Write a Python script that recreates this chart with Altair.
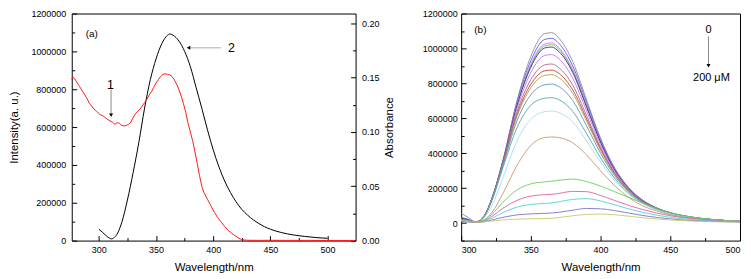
import altair as alt
import pandas as pd

FONT = "Liberation Sans"

# ---------------- panel (a) ----------------
em_wl = [300, 303, 306, 309, 311, 313, 316, 320, 325, 330, 335, 340, 345, 350, 355, 360, 362,
         365, 370, 375, 380, 385, 390, 395, 400, 405, 410, 415, 420, 425, 430, 435, 440, 445,
         450, 460, 470, 480, 490, 500]
em_int = [60000, 45000, 28000, 14000, 9000, 14000, 35000, 95000, 215000, 360000, 520000, 700000,
          850000, 960000, 1040000, 1085000, 1092000, 1085000, 1055000, 1000000, 920000, 810000,
          700000, 585000, 480000, 390000, 315000, 255000, 205000, 165000, 135000, 110000, 90000,
          73000, 60000, 42000, 30000, 22000, 16000, 12000]

abs_wl = [276, 278, 280, 283, 286, 289, 292, 295, 298, 301, 304, 307, 310, 312, 314, 316, 318, 320,
          322, 324, 326, 328, 330, 332, 334, 336, 338, 340, 342, 344, 346, 348, 350, 352, 354, 356,
          358, 360, 362, 364, 366, 368, 370, 372, 374, 376, 378, 380, 382, 384, 386, 388, 390, 392,
          395, 398, 401, 404, 407, 410, 413, 416, 419, 422, 425, 430, 440, 450, 460, 480, 500, 524]
abs_val = [0.149, 0.150, 0.147, 0.142, 0.137, 0.132, 0.126, 0.122, 0.119, 0.116, 0.1145, 0.112,
           0.110, 0.109, 0.107, 0.1085, 0.108, 0.106, 0.1055, 0.106, 0.107, 0.109, 0.113, 0.117,
           0.119, 0.121, 0.124, 0.127, 0.130, 0.134, 0.137, 0.141, 0.145, 0.148, 0.151, 0.153,
           0.1535, 0.153, 0.1525, 0.151, 0.148, 0.144, 0.139, 0.133, 0.126, 0.118, 0.108, 0.100,
           0.092, 0.082, 0.071, 0.060, 0.050, 0.044, 0.038, 0.032, 0.026, 0.021, 0.017, 0.013,
           0.0095, 0.007, 0.0045, 0.0025, 0.0008, 0.0003, 0.0002, 0.0003, 0.0002, 0.0002, 0.0001,
           0.0001]

# annotations (data units)
a_text = ["(a)", "1", "2"]
a_text_wl = [293.8, 310.2, 415.9]
a_text_int = [1093000, 824000, 1019000]

# ---------------- panel (b) ----------------
b_wl = [300, 305, 310, 313, 317, 322, 330, 340, 350, 360, 365, 370, 380, 390, 400, 410, 420, 430,
        440, 450, 465, 480, 500]
c01 = [56000, 33000, 9000, 12000, 48000, 140000, 360000, 700000, 955000, 1085000, 1090000, 1060000,
       925000, 705000, 485000, 318000, 205000, 133000, 88000, 60000, 35000, 21000, 10000]
c02 = [33000, 22000, 7000, 12000, 48000, 140000, 358000, 690000, 930000, 1052000, 1058000, 1030000,
       900000, 690000, 478000, 312000, 202000, 131000, 87000, 59000, 34000, 21000, 10000]
c03 = [25000, 17000, 6000, 11000, 47000, 139000, 355000, 680000, 910000, 1026000, 1032000, 1005000,
       880000, 675000, 470000, 308000, 200000, 130000, 86000, 58000, 34000, 20000, 10000]
c04 = [22000, 15000, 6000, 11000, 47000, 138000, 354000, 676000, 902000, 1015000, 1021000, 995000,
       872000, 670000, 466000, 306000, 199000, 129000, 86000, 58000, 34000, 20000, 10000]
c05 = [28000, 19000, 6000, 11000, 47000, 139000, 353000, 670000, 893000, 1003000, 1008000, 983000,
       863000, 664000, 463000, 305000, 198000, 129000, 86000, 58000, 34000, 20000, 10000]
c06 = [22000, 15000, 6000, 11000, 46000, 137000, 348000, 655000, 862000, 960000, 965000, 942000,
       830000, 642000, 450000, 298000, 195000, 127000, 85000, 57000, 33000, 20000, 10000]
c07 = [20000, 14000, 6000, 11000, 46000, 136000, 343000, 635000, 822000, 906000, 911000, 890000,
       790000, 615000, 434000, 290000, 190000, 125000, 84000, 57000, 33000, 20000, 10000]
c08 = [20000, 14000, 6000, 11000, 45000, 135000, 340000, 620000, 795000, 872000, 876000, 858000,
       763000, 597000, 424000, 284000, 187000, 123000, 83000, 56000, 33000, 20000, 10000]
c09 = [20000, 14000, 6000, 11000, 45000, 134000, 337000, 610000, 775000, 846000, 850000, 833000,
       743000, 584000, 416000, 280000, 185000, 122000, 82000, 56000, 33000, 20000, 10000]
c10 = [18000, 13000, 6000, 10000, 44000, 132000, 330000, 585000, 735000, 792000, 796000, 782000,
       702000, 556000, 400000, 272000, 181000, 120000, 81000, 55000, 32000, 19000, 10000]
c11 = [18000, 13000, 6000, 10000, 43000, 128000, 318000, 545000, 675000, 715000, 718000, 707000,
       640000, 512000, 374000, 258000, 173000, 116000, 79000, 54000, 32000, 19000, 10000]
c12 = [16000, 12000, 6000, 9000, 35000, 100000, 260000, 470000, 595000, 638000, 642000, 633000,
       580000, 470000, 350000, 245000, 166000, 112000, 77000, 53000, 31000, 19000, 10000]
c13 = [15000, 11000, 6000, 8000, 22000, 60000, 170000, 330000, 445000, 490000, 493000, 490000,
       460000, 390000, 300000, 215000, 148000, 100000, 70000, 48000, 29000, 18000, 9000]
c14 = [14000, 9000, 5000, 7000, 20000, 50000, 120000, 190000, 225000, 236000, 240000, 245000,
       252000, 238000, 212000, 180000, 148000, 115000, 85000, 60000, 36000, 20000, 9000]
c15 = [13000, 8000, 5000, 6000, 15000, 38000, 85000, 130000, 155000, 163000, 165000, 170000,
       182000, 180000, 158000, 130000, 102000, 78000, 58000, 42000, 26000, 15000, 8000]
c16 = [12000, 8000, 5000, 6000, 12000, 28000, 60000, 92000, 107000, 113000, 116000, 122000,
       136000, 140000, 127000, 105000, 82000, 62000, 46000, 33000, 21000, 13000, 7000]
c17 = [10000, 7000, 4000, 5000, 9000, 18000, 33000, 47000, 53000, 56000, 58000, 62000, 74000,
       84000, 82000, 72000, 58000, 44000, 33000, 24000, 15000, 10000, 6000]
c18 = [14000, 9000, 5000, 5000, 8000, 12000, 18000, 23000, 25000, 26000, 28000, 32000, 42000,
       50000, 52000, 48000, 40000, 31000, 24000, 18000, 12000, 8000, 6000]
b_curves = [c01, c02, c03, c04, c05, c06, c07, c08, c09, c10, c11, c12, c13, c14, c15, c16, c17, c18]
b_colors = ["#8c8c8c", "#5a5aff", "#f060f0", "#60c060", "#303080", "#c070ff", "#b06090", "#c04040",
            "#b0a040", "#6090c8", "#50a8a8", "#a8dcea", "#c8966a", "#60d060", "#e060a0", "#50d0d8",
            "#7878c0", "#c8c870"]

b_text = ["(b)", "0", "200 \u03bcM"]
b_text_wl = [313.8, 477.4, 479.5]
b_text_int = [1106000, 1106000, 833000]

# ticks
xa_ticks = [300, 325, 350, 375, 400, 425, 450, 475, 500]
ya_ticks = list(range(0, 1200001, 100000))
yr_ticks = [0, 0.025, 0.05, 0.075, 0.1, 0.125, 0.15, 0.175, 0.2]
yb_ticks = list(range(-100000, 1200001, 100000))

# ---------------- helpers ----------------
def minor_dash(test):
    return {"condition": {"test": test, "value": [0, 2, 3, 40]}, "value": [40, 0]}

TS = 5

def x_axis(vals):
    return alt.Axis(values=vals, title="Wavelength/nm", format="d",
                    labelExpr="datum.value % 50 === 0 ? datum.label : ''",
                    tickSize=TS, offset=-TS, labelPadding=5, titlePadding=7,
                    tickDash=minor_dash("datum.value % 50 !== 0"))

def y_int_axis(vals, title, lp):
    kw = dict(values=vals, format="d",
              labelExpr="datum.value % 200000 === 0 ? datum.label : ''",
              tickSize=TS, offset=-TS, labelPadding=lp,
              tickDash=minor_dash("datum.value % 200000 !== 0"))
    if title:
        kw.update(title=title, titlePadding=11)
    else:
        kw.update(title=None)
    return alt.Axis(**kw)

# ---------------- panel (a) chart ----------------
xa_scale = alt.Scale(domain=[276.3, 524.5], nice=False, zero=False)
ya_scale = alt.Scale(domain=[0, 1200000], nice=False)
yr_scale = alt.Scale(domain=[0, 0.2090], nice=False)
xa_ax = x_axis(xa_ticks)
ya_ax = y_int_axis(ya_ticks, "Intensity(a. u.)", 6)

df_em = pd.DataFrame({"wl": em_wl, "I": em_int})
df_abs = pd.DataFrame({"wl": abs_wl, "A": abs_val})
df_at = pd.DataFrame({"wl": a_text_wl, "I": a_text_int, "t": a_text})

XA = alt.X("wl:Q", scale=xa_scale, axis=xa_ax)
YA = alt.Y("I:Q", scale=ya_scale, axis=ya_ax)

black = alt.Chart(df_em).mark_line(color="black", strokeWidth=1.0, interpolate="monotone").encode(x=XA, y=YA)
txt_a_small = alt.Chart(df_at.iloc[[0]]).mark_text(font=FONT, fontSize=10, color="black").encode(x=XA, y=YA, text="t:N")
txt_a_big = alt.Chart(df_at.iloc[[1, 2]]).mark_text(font=FONT, fontSize=12.5, color="black").encode(x=XA, y=YA, text="t:N")

arr1 = pd.DataFrame({"wl": [310.7], "wl2": [310.7], "I": [798000], "I2": [668000]})
arr1_head = pd.DataFrame({"wl": [310.7], "I": [662000]})
arr2 = pd.DataFrame({"wl": [406.7], "wl2": [379.5], "I": [1019000], "I2": [1019000]})
arr2_head = pd.DataFrame({"wl": [378.4], "I": [1019000]})

rule1 = alt.Chart(arr1).mark_rule(color="#707070", strokeWidth=0.8).encode(x=XA, x2="wl2", y=YA, y2="I2")
head1 = alt.Chart(arr1_head).mark_point(shape="triangle-down", filled=True, size=16, color="black", opacity=1).encode(x=XA, y=YA)
rule2 = alt.Chart(arr2).mark_rule(color="#c8c8c8", strokeWidth=1.5).encode(x=XA, x2="wl2", y=YA, y2="I2")
head2 = alt.Chart(arr2_head).mark_point(shape="triangle-left", filled=True, size=16, color="black", opacity=1).encode(x=XA, y=YA)

left_group = alt.layer(black, rule1, head1, rule2, head2, txt_a_small, txt_a_big)

yr_ax = alt.Axis(orient="right", values=yr_ticks, format=".2f",
                 labelExpr="abs(datum.value * 20 - round(datum.value * 20)) < 0.001 ? format(datum.value, '.2f') : ''",
                 tickSize=TS, offset=-TS, labelPadding=6, title="Absorbance", titleAngle=270,
                 titleBaseline="top", titlePadding=5,
                 tickDash=minor_dash("abs(datum.value * 20 - round(datum.value * 20)) > 0.001"))
red = alt.Chart(df_abs).mark_line(color="#ff1a1a", strokeWidth=1.0).encode(
    x=XA, y=alt.Y("A:Q", scale=yr_scale, axis=yr_ax))

panel_a = alt.layer(left_group, red).resolve_scale(y="independent").properties(width=285, height=228)

# ---------------- panel (b) chart ----------------
xb_scale = alt.Scale(domain=[300, 500], nice=False, zero=False)
yb_scale = alt.Scale(domain=[-100000, 1200000], nice=False)
xb_ax = x_axis(xa_ticks)
yb_ax = y_int_axis(yb_ticks, None, 4)
XB = alt.X("wl:Q", scale=xb_scale, axis=xb_ax)
YB = alt.Y("I:Q", scale=yb_scale, axis=yb_ax)

names = ["c%02d" % (i + 1) for i in range(len(b_curves))]
rows = []
for n, vals in zip(names, b_curves):
    for w, v in zip(b_wl, vals):
        rows.append({"wl": w, "I": v, "s": n})
df_b = pd.DataFrame(rows)

lines_b = alt.Chart(df_b).mark_line(strokeWidth=0.9, interpolate="monotone").encode(
    x=XB, y=YB,
    color=alt.Color("s:N", scale=alt.Scale(domain=names, range=b_colors), legend=None))

df_bt = pd.DataFrame({"wl": b_text_wl, "I": b_text_int, "t": b_text})
txt_b_small = alt.Chart(df_bt.iloc[[0]]).mark_text(font=FONT, fontSize=10, color="black").encode(x=XB, y=YB, text="t:N")
txt_b_big = alt.Chart(df_bt.iloc[[1, 2]]).mark_text(font=FONT, fontSize=11, color="black").encode(x=XB, y=YB, text="t:N")
arr3 = pd.DataFrame({"wl": [477.4], "wl2": [477.4], "I": [1069000], "I2": [906000]})
arr3_head = pd.DataFrame({"wl": [477.4], "I": [901000]})
rule3 = alt.Chart(arr3).mark_rule(color="#707070", strokeWidth=0.8).encode(x=XB, x2="wl2", y=YB, y2="I2")
head3 = alt.Chart(arr3_head).mark_point(shape="triangle-down", filled=True, size=16, color="black", opacity=1).encode(x=XB, y=YB)

panel_b = alt.layer(lines_b, rule3, head3, txt_b_small, txt_b_big).properties(width=280, height=228)

chart = alt.hconcat(panel_a, panel_b, spacing=25).properties(
    padding={"left": 0, "top": 0, "right": 0, "bottom": 0}
).configure_view(stroke="black", strokeWidth=1).configure_axis(
    labelFont=FONT, titleFont=FONT, labelFontSize=9, titleFontSize=11.5,
    labelColor="black", titleColor="black", tickColor="black", titleFontWeight="normal",
    grid=False, domain=False
)

chart.save("out.html", embed_options={"renderer": "svg", "actions": False})
